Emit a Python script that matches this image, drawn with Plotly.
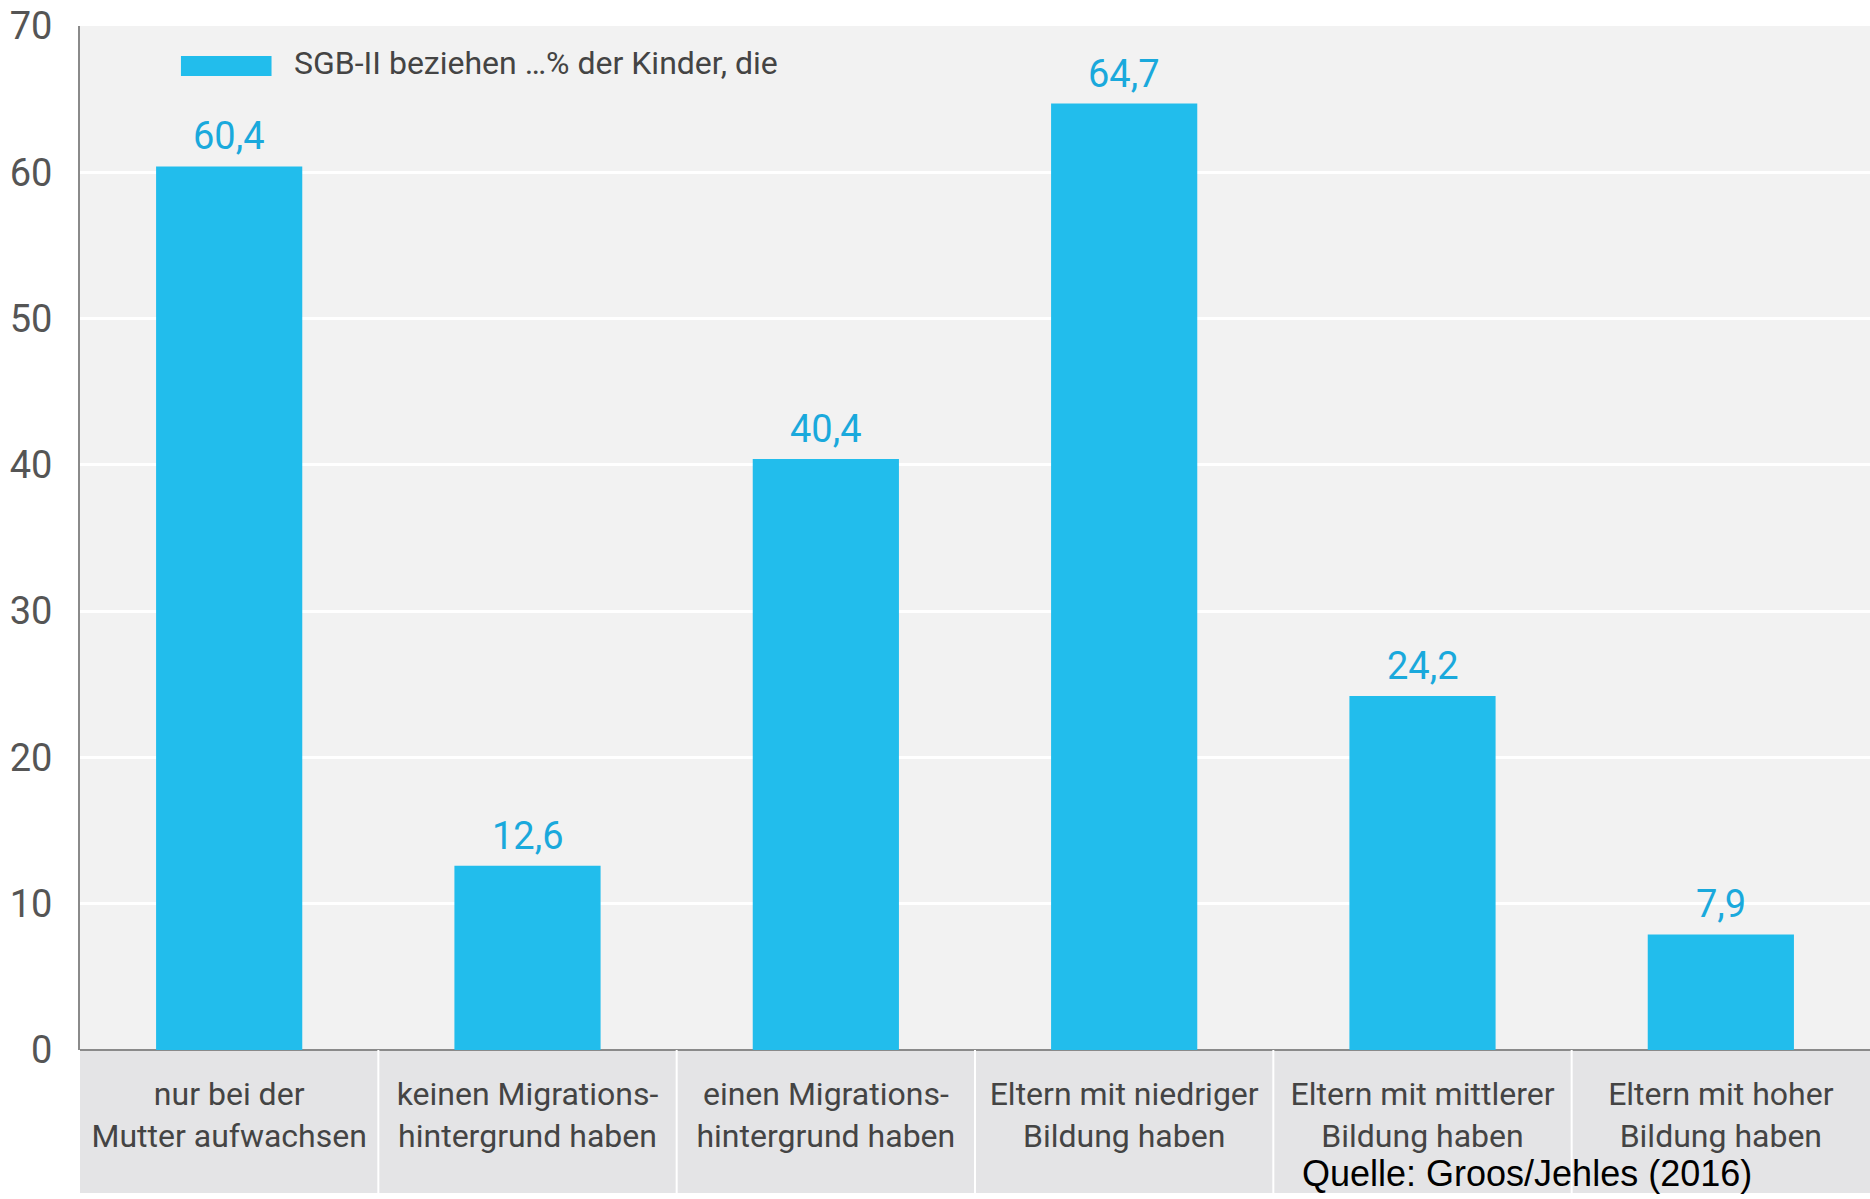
import plotly.graph_objects as go

categories = [
    "nur bei der<br>Mutter aufwachsen",
    "keinen Migrations-<br>hintergrund haben",
    "einen Migrations-<br>hintergrund haben",
    "Eltern mit niedriger<br>Bildung haben",
    "Eltern mit mittlerer<br>Bildung haben",
    "Eltern mit hoher<br>Bildung haben",
]
values = [60.4, 12.6, 40.4, 64.7, 24.2, 7.9]
series_name = "SGB-II beziehen \u2026% der Kinder, die"
source_text = "Quelle: Groos/Jehles (2016)"
y_ticks = [0, 10, 20, 30, 40, 50, 60, 70]

FONT = "Roboto, Noto Sans, sans-serif"
BAR = "#22bdec"
LABEL = "#1aa9dc"

n = len(categories)
xs = list(range(n))

fig = go.Figure()
fig.add_trace(go.Bar(
    x=xs,
    y=values,
    name=series_name,
    marker=dict(color=BAR, line=dict(width=0)),
    showlegend=False,
))

band_h = 143 / 1024
shapes = [
    dict(type="rect", xref="paper", yref="paper", x0=0, x1=1, y0=-band_h, y1=0,
         fillcolor="#e4e4e6", line=dict(width=0), layer="below"),
]
for i in range(1, n):
    shapes.append(dict(type="line", xref="paper", yref="paper", x0=i / n, x1=i / n,
                       y0=-band_h, y1=0, line=dict(color="white", width=2)))
# legend swatch
shapes.append(dict(type="rect", xref="paper", yref="paper", x0=0.0564, x1=0.107,
                   y0=0.9512, y1=0.9707, fillcolor=BAR, line=dict(width=0)))

annotations = [
    dict(text=series_name, xref="paper", yref="paper", x=0.1184, y=0.9639,
         xanchor="left", yanchor="middle", showarrow=False,
         font=dict(family=FONT, size=32, color="#444444")),
    dict(text=source_text, xref="paper", yref="paper", x=0.6816, y=-0.121,
         xanchor="left", yanchor="middle", showarrow=False,
         font=dict(family="Liberation Sans, Arial", size=36, color="#000000")),
]
for xi, v in zip(xs, values):
    annotations.append(dict(
        text=f"{v:.1f}".replace(".", ","), x=xi, y=v, xref="x", yref="y",
        xanchor="center", yanchor="bottom", yshift=6, showarrow=False,
        font=dict(family=FONT, size=38, color=LABEL)))

fig.update_layout(
    width=1870, height=1199,
    margin=dict(l=80, r=0, t=26, b=149),
    paper_bgcolor="white",
    plot_bgcolor="#f2f2f2",
    bargap=0.51,
    shapes=shapes,
    annotations=annotations,
    showlegend=False,
    xaxis=dict(
        tickmode="array", tickvals=xs, ticktext=categories,
        range=[-0.5, n - 0.5], showgrid=False, zeroline=False,
        showline=False, ticks="", tickangle=0, automargin=False,
        tickfont=dict(family=FONT, size=32, color="#444444"),
        ticklabelstandoff=22, ticklabeloverflow="allow",
    ),
    yaxis=dict(
        range=[0, 70], tickvals=y_ticks, showgrid=True, gridcolor="white", gridwidth=3,
        zeroline=True, zerolinecolor="#8a8a8a", zerolinewidth=2,
        showline=True, linecolor="#8a8a8a", linewidth=2, ticks="", automargin=False,
        tickfont=dict(family=FONT, size=38, color="#555555"),
        ticklabelstandoff=18, ticklabeloverflow="allow",
    ),
)

fig.write_html("out.html", config={"displayModeBar": False},
               post_script="document.body.style.margin='0';")
